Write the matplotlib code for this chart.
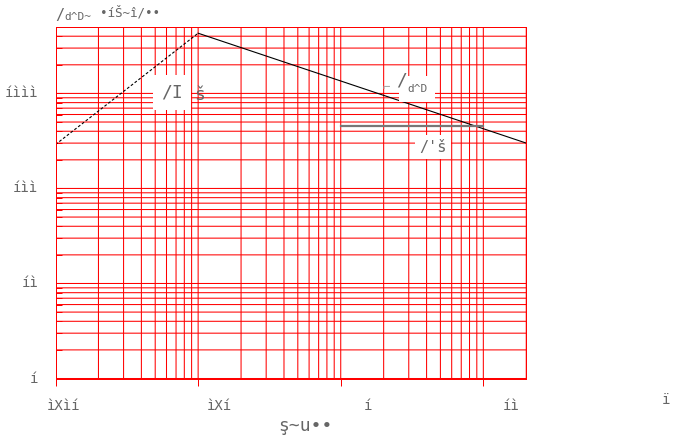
import matplotlib
matplotlib.use("Agg")
import matplotlib.pyplot as plt
import matplotlib.transforms as transforms
from matplotlib.ticker import LogLocator, NullFormatter

# values
rise_x = [0.01, 0.1]
rise_y = [290, 4300]
fall_x = [0.1, 20]
fall_y = [4300, 300]
flat_x = [1, 10]
flat_y = [455, 455]

x_ticks = [0.01, 0.1, 1, 10]
x_tick_labels = ["ìXìí", "ìXí", "í", "íì"]
y_ticks = [1, 10, 100, 1000]
y_tick_labels = ["í", "íì", "íìì", "íììì"]

x_label = "ş~u••"
title_main = "/"
title_sub = "d^D~"
title_rest = "•íŠ~î/••"
peak_label = ["/I", "š"]
fall_label = ["⌐", "/", "d^D"]
flat_label = "/'š"
corner_label = "ï"

# the x tick labels sit a little right of their ticks (pixels)
x_label_nudge = [8, 21, 27, 28]

TEXT = "#666666"
RED = "#ff0000"
FONT = ["DejaVu Sans Mono", "DejaVu Sans"]
ONE_PX = 0.72  # points, at dpi 100


def px(n):
    return n / 100.0


def main():
    fig = plt.figure(figsize=(6.89, 4.44), dpi=100)
    ax = fig.add_axes([0.0806, 0.1475, 0.6832, 0.7917])
    ax.set_xscale("log")
    ax.set_yscale("log")
    ax.set_xlim(0.01, 20)
    ax.set_ylim(1, 5000)

    for axis in (ax.xaxis, ax.yaxis):
        axis.set_major_locator(LogLocator(base=10, numticks=10))
        axis.set_minor_locator(LogLocator(base=10, subs=range(2, 10), numticks=20))
        axis.set_major_formatter(NullFormatter())
        axis.set_minor_formatter(NullFormatter())

    ax.tick_params(axis="x", which="major", direction="out", length=4.8,
                   width=ONE_PX, color=RED)
    ax.tick_params(axis="x", which="minor", length=0)
    ax.tick_params(axis="y", which="both", direction="in", length=4.5,
                   width=ONE_PX, color=RED)
    # unsnapped grid, so lines between pixels come out soft like the original
    ax.tick_params(which="both", grid_color=RED, grid_alpha=1.0,
                   grid_linewidth=0.75, grid_linestyle="-",
                   grid_snap=False)
    ax.grid(True, which="both")
    ax.set_axisbelow(True)
    for s in ax.spines.values():
        s.set_color(RED)
        s.set_linewidth(ONE_PX)

    # lines
    ax.plot(rise_x, rise_y, color="black", lw=0.8, ls=(0, (2.5, 1.8)))
    ax.plot(fall_x, fall_y, color="black", lw=0.8)
    ax.plot(flat_x, flat_y, color="#777777", lw=1.6)

    # tick labels
    for val, lab, dx in zip(x_ticks, x_tick_labels, x_label_nudge):
        off = transforms.ScaledTranslation(px(dx), px(-27), fig.dpi_scale_trans)
        ax.text(val, 0, lab, transform=ax.get_xaxis_transform() + off,
                ha="center", va="center", fontsize=10, color=TEXT, family=FONT)
    for val, lab in zip(y_ticks, y_tick_labels):
        off = transforms.ScaledTranslation(px(-17.5), 0, fig.dpi_scale_trans)
        ax.text(0, val, lab, transform=ax.get_yaxis_transform() + off,
                ha="right", va="center", fontsize=10, color=TEXT, family=FONT)

    # annotations
    ax.text(0.066, 1020, peak_label[0], ha="center", va="center", fontsize=13,
            color=TEXT, family=FONT,
            bbox=dict(boxstyle="square,pad=0.45", fc="white", ec="none"))
    ax.text(0.103, 960, peak_label[1], ha="center", va="center", fontsize=13,
            color=TEXT, family=FONT)

    ax.text(2.1, 1157, fall_label[0], ha="center", va="center", fontsize=9,
            color="#aaaaaa", family=FONT)
    ax.text(3.43, 1115, fall_label[2], ha="center", va="center", fontsize=8,
            color=TEXT, family=FONT, zorder=4,
            bbox=dict(boxstyle="square,pad=0.7", fc="white", ec="none"))
    ax.text(2.69, 1355, fall_label[1], ha="center", va="center", fontsize=13,
            color=TEXT, family=FONT, zorder=5)

    ax.text(4.44, 273, flat_label, ha="center", va="center", fontsize=11,
            color=TEXT, family=FONT,
            bbox=dict(boxstyle="square,pad=0.3", fc="white", ec="none"))

    # title, axis label and the stray label at the right
    fig.text(0.0864, 0.9662, title_main, ha="center", va="center", fontsize=11,
             color=TEXT, family=FONT)
    fig.text(0.1125, 0.9628, title_sub, ha="center", va="center", fontsize=8,
             color=TEXT, family=FONT)
    fig.text(0.1887, 0.9718, title_rest, ha="center", va="center", fontsize=9,
             color=TEXT, family=FONT)
    fig.text(0.4427, 0.0405, x_label, ha="center", va="center", fontsize=13,
             color=TEXT, family=FONT)
    fig.text(0.9666, 0.0991, corner_label, ha="center", va="center", fontsize=10,
             color=TEXT, family=FONT)

    fig.savefig("out.png", dpi=100)


if __name__ == "__main__":
    main()
